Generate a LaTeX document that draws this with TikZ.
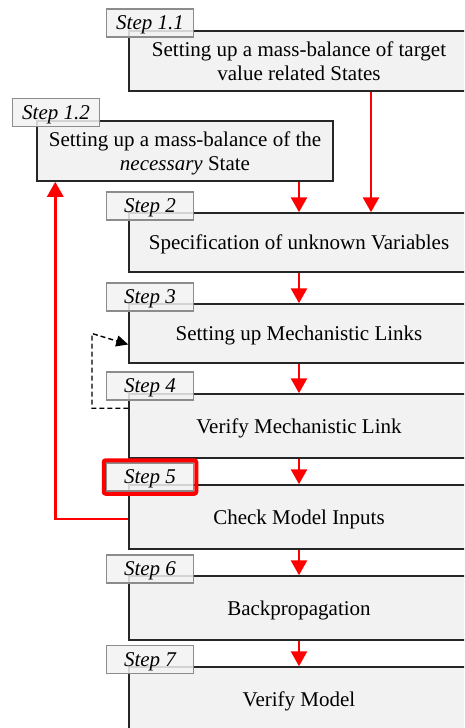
\documentclass[tikz,border=0pt]{standalone}
\usepackage{fontspec}
\setmainfont{Liberation Serif}
\usetikzlibrary{arrows.meta,calc}
\definecolor{boxfill}{HTML}{F2F2F2}
\definecolor{tagline}{HTML}{8C8C8C}
\definecolor{frame}{HTML}{262626}
\tikzset{
  stepbox/.style={draw=frame, line width=1.5pt, fill=boxfill, rectangle,
    minimum width=340pt, minimum height=60pt, align=center, inner sep=0pt,
    text depth=0pt, font=\fontsize{21}{24}\selectfont},
  tagbox/.style={draw=tagline, line width=1.5pt, fill=boxfill, fill opacity=0.85,
    text opacity=1, rectangle, minimum width=87pt, minimum height=28pt,
    inner sep=0pt, text depth=0pt, font=\fontsize{21}{24}\selectfont\itshape},
  flow/.style={draw=red, line width=2.8pt, -{Triangle[width=16pt,length=15pt]}},
  loopback/.style={draw=black, line width=1.4pt, dash pattern=on 5pt off 3pt,
    -{Triangle[width=11pt,length=12pt]}},
  highlight/.style={draw=red, line width=4pt, rounded corners=2pt}
}
\begin{document}
\begin{tikzpicture}[x=1pt,y=-1pt]
\useasboundingbox (0,0) rectangle (464,728);
\clip (0,0) rectangle (464,728);

% main step boxes (right part runs past the page edge)
\node[stepbox] (b11) at (299,61) {Setting up a mass-balance of target\\value related States};
\node[stepbox, minimum width=296pt] (b12) at (185,151) {Setting up a mass-balance of the\\\textit{necessary} State};
\node[stepbox, minimum height=59pt] (b2) at (299,242.5) {Specification of unknown Variables};
\node[stepbox, minimum height=59pt] (b3) at (299,333.5) {Setting up Mechanistic Links};
\node[stepbox, minimum height=64pt] (b4) at (299,426) {Verify Mechanistic Link};
\node[stepbox, minimum height=64pt] (b5) at (299,517) {Check Model Inputs};
\node[stepbox, minimum height=64pt] (b6) at (299,608) {Backpropagation};
\node[stepbox, minimum height=64pt] (b7) at (299,699) {Verify Model};

% step tags
\node[tagbox] (t11) at (150,23) {Step 1.1};
\node[tagbox] (t12) at (56,112.5) {Step 1.2};
\node[tagbox] (t2) at (150,206) {Step 2};
\node[tagbox] (t3) at (150,297) {Step 3};
\node[tagbox] (t4) at (150,386) {Step 4};
\node[tagbox] (t5) at (150,477) {Step 5};
\node[tagbox] (t6) at (150,569) {Step 6};
\node[tagbox] (t7) at (150,659.5) {Step 7};

% emphasis on step 5
\draw[highlight] ([xshift=-2pt,yshift=2pt]t5.north west) rectangle ([xshift=2pt,yshift=-2pt]t5.south east);

% sequence arrows
\draw[flow] (b2.north |- b12.south) -- (b2.north);
\draw[flow] ([xshift=72pt]b11.south) -- ([xshift=72pt]b11.south |- b2.north);
\draw[flow] (b2.south) -- (b3.north);
\draw[flow] (b3.south) -- (b4.north);
\draw[flow] (b4.south) -- (b5.north);
\draw[flow] (b5.south) -- (b6.north);
\draw[flow] (b6.south) -- (b7.north);

% feedback from model input check to step 1.2
\draw[flow] ([yshift=-2pt]b5.west) -| ([xshift=19pt]b12.south west);

% verification loop back to step 3
\coordinate (lp) at (92,0);
\draw[loopback] ([yshift=-15pt]b4.north west) -| (lp |- b3.west) -- ([yshift=-11pt]b3.west);
\end{tikzpicture}
\end{document}
